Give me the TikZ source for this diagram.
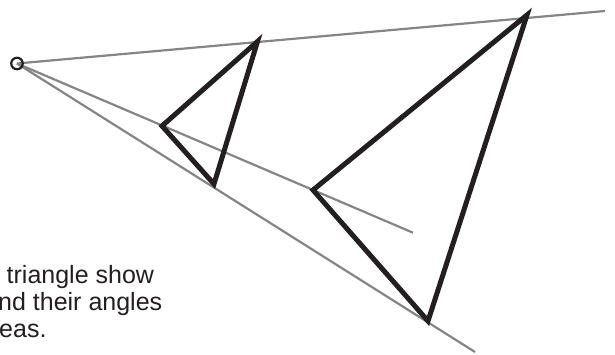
\documentclass[tikz,border=0pt]{standalone}
\usepackage{fontspec}
\setmainfont{Liberation Sans}
\definecolor{raygray}{HTML}{858585}
\definecolor{inkblack}{HTML}{231F20}
\tikzset{
  ray/.style={raygray, line width=2.2pt},
  tri/.style={inkblack, line width=5pt, line join=miter},
  centre/.style={draw=inkblack, line width=2.2pt, circle, minimum size=11.5pt, inner sep=0pt},
  caption/.style={anchor=base west, inner sep=0pt, text=inkblack, font=\fontsize{25}{27}\selectfont},
}

\begin{document}
\begin{tikzpicture}[x=1pt, y=-1pt]
  \useasboundingbox (0,0) rectangle (615,355);
  % centre of the enlargement
  \coordinate (O) at (17,63.5);
  % small triangle
  \coordinate (a1) at (257.5,41.5);
  \coordinate (b1) at (162,126);
  \coordinate (c1) at (214,184);
  % big triangle
  \coordinate (a2) at (527,15);
  \coordinate (b2) at (313,190);
  \coordinate (c2) at (428,321);
  % ray ends
  \coordinate (r1) at (605,11);
  \coordinate (r2) at (413,232.7);
  \coordinate (r3) at (475,352);

  % rays through matching vertices
  \draw[ray] (O) -- (r1);
  \draw[ray] (O) -- (r2);
  \draw[ray] (O) -- (r3);
  \node[centre] (Oc) at (O) {};

  % the two triangles
  \draw[tri] (a1) -- (b1) -- (c1) -- cycle;
  \draw[tri] (a2) -- (b2) -- (c2) -- cycle;

  \node[caption] (cap1) at (6.5,283) {triangle show};
  \node[caption] (cap2) at (-2,310) {nd their angles};
  \node[caption] (cap3) at (-1,337) {eas.};
\end{tikzpicture}
\end{document}
